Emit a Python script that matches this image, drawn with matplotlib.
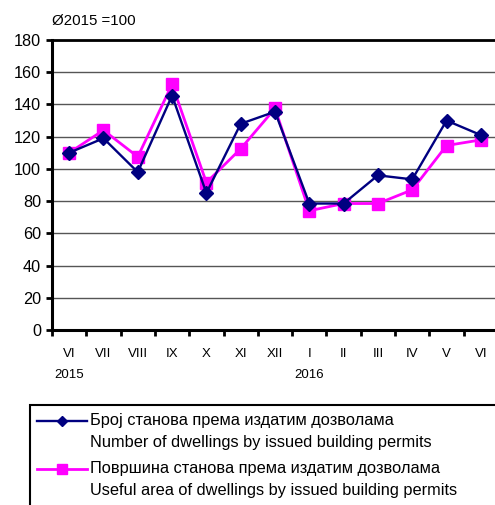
import matplotlib.pyplot as plt
from matplotlib.patches import Rectangle
from matplotlib.lines import Line2D
from matplotlib.transforms import blended_transform_factory

plt.rcParams['font.family'] = ['Liberation Sans', 'DejaVu Sans']

months = ["VI", "VII", "VIII", "IX", "X", "XI", "XII", "I", "II", "III", "IV", "V", "VI"]
years = {0: "2015", 7: "2016"}
dwellings = [110, 119, 98, 145.5, 85, 128, 135.5, 78.5, 78.5, 96, 93.5, 130, 121]
area = [110, 124, 107.5, 152.5, 91.5, 112.5, 137.5, 74, 78.5, 78.5, 87, 114.5, 118]
label1 = ["Број станова према издатим дозволама", "Number of dwellings by issued building permits"]
label2 = ["Површина станова према издатим дозволама", "Useful area of dwellings by issued building permits"]

W, H = 495, 505
fig = plt.figure(figsize=(W / 100, H / 100), dpi=100)
ax = fig.add_axes([52 / W, 1 - 330 / H, 446 / W, 290 / H])

x = list(range(len(months)))
styles = [
    dict(color='#000080', lw=1.7, marker='D', ms=7),
    dict(color='#ff00ff', lw=2, marker='s', ms=8.5),
]
ax.plot(x, dwellings, zorder=4, **styles[0])
ax.plot(x, area, zorder=3, **styles[1])

ax.set_xlim(-0.5, 12.5)
ax.set_ylim(0, 180)
ax.set_yticks(range(0, 181, 20))
ax.yaxis.grid(True, color='#555555', lw=1)
ax.set_axisbelow(True)

ax.set_xticks([i - 0.5 for i in range(14)])
ax.set_xticklabels([])
ax.set_xticks(x, minor=True)
ax.set_xticklabels(months, minor=True, fontsize=9.5)
ax.tick_params(axis='x', which='major', direction='out', length=4, width=2)
ax.tick_params(axis='x', which='minor', length=0, pad=13)
ax.tick_params(axis='y', direction='out', length=4, width=2, labelsize=11.7, pad=4)

for s in ['left', 'bottom']:
    ax.spines[s].set_linewidth(2.2)
ax.spines['top'].set_linewidth(2)
ax.spines['right'].set_visible(False)

tr = blended_transform_factory(ax.transData, fig.transFigure)
for i, yr in years.items():
    ax.text(i, 1 - 375 / H, yr, transform=tr, ha='center', va='center', fontsize=9.5)

fig.text(52 / W, 1 - 21 / H, "Ø2015 =100", ha='left', va='center', fontsize=10.8)

# legend box (runs off the right and bottom edges like the original)
fig.add_artist(Rectangle((30 / W, -0.1), 1.0, 1 - 405 / H + 0.1, transform=fig.transFigure,
                         fill=False, ec='black', lw=1.5))
for k, (lab, st) in enumerate([(label1, styles[0]), (label2, styles[1])]):
    yy = 421 + 48 * k
    st = dict(st)
    st['ms'] = st['ms'] * 0.8
    fig.add_artist(Line2D([37 / W, 62 / W, 87 / W], [1 - yy / H] * 3, markevery=[1],
                          transform=fig.transFigure, **st))
    for j, line in enumerate(lab):
        fig.text(90 / W, 1 - (yy + 22 * j) / H, line, ha='left', va='center', fontsize=11.8)

fig.savefig('out.png', dpi=100)
